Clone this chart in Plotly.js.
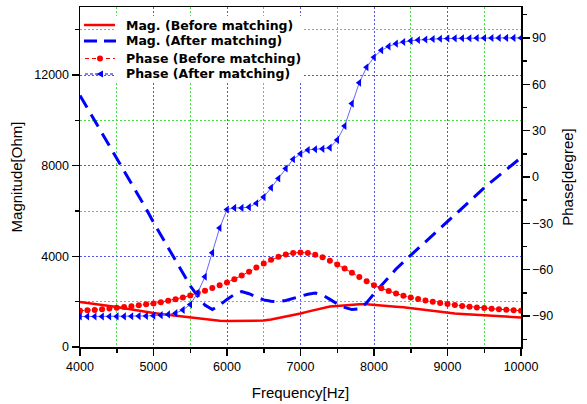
<!DOCTYPE html>
<html>
<head>
<meta charset="utf-8">
<script src="https://cdn.plot.ly/plotly-3.0.1.min.js"></script>
<style>html,body{margin:0;padding:0;background:#fff;}#chart{width:587px;height:404px;}</style>
</head>
<body>
<div id="chart"></div>
<script>
const freq = [4000,4100,4200,4300,4400,4500,4600,4700,4800,4900,
  5000,5100,5200,5300,5400,5500,5600,5700,5800,5900,
  6000,6100,6200,6300,6400,6500,6600,6700,6800,6900,
  7000,7100,7200,7300,7400,7500,7600,7700,7800,7900,
  8000,8100,8200,8300,8400,8500,8600,8700,8800,8900,
  9000,9100,9200,9300,9400,9500,9600,9700,9800,9900,10000];

const magBefore = [1990,1950,1900,1860,1810,1760,1710,1650,1600,1550,
  1500,1460,1420,1390,1350,1310,1270,1230,1190,1160,
  1150,1150,1150,1150,1155,1165,1210,1270,1340,1410,
  1480,1560,1640,1720,1790,1810,1840,1870,1890,1890,
  1870,1840,1810,1780,1750,1710,1680,1640,1600,1550,
  1500,1480,1460,1440,1420,1400,1380,1360,1340,1320,1300];

const magAfter = [11100,10550,10000,9450,8900,8350,7800,7250,6700,6100,
  5500,4950,4400,3820,3250,2700,2250,1850,1650,1850,
  2100,2320,2450,2350,2200,2080,2020,2000,2050,2150,
  2250,2330,2380,2300,2100,1900,1750,1650,1680,1950,
  2350,2720,3080,3440,3750,4050,4350,4650,4950,5250,
  5550,5850,6150,6450,6750,7020,7300,7570,7830,8100,8350];

const phaseBefore = [-86.6,-86.3,-86.0,-85.6,-85.1,-84.6,-84.1,-83.6,-83.0,-82.4,
  -81.8,-81.0,-80.1,-79.1,-77.9,-76.6,-75.2,-73.6,-71.9,-70.1,
  -68.2,-66.1,-63.7,-61.3,-58.6,-56.0,-53.6,-51.6,-50.1,-49.1,
  -48.8,-49.2,-50.3,-52.0,-54.2,-56.6,-59.2,-61.9,-64.7,-67.4,
  -70.0,-72.0,-73.8,-75.4,-76.8,-78.0,-79.0,-79.9,-80.7,-81.5,
  -82.2,-82.8,-83.4,-83.9,-84.4,-84.8,-85.2,-85.6,-85.9,-86.2,-86.5];

const phaseAfter = [-90.3,-90.3,-90.3,-90.3,-90.3,-90.2,-90.2,-90.1,-90.0,-89.9,
  -89.7,-89.4,-88.9,-88.1,-86.0,-82.5,-75.0,-64.5,-49.0,-33.0,
  -21.0,-20.0,-20.0,-19.5,-17.0,-13.0,-7.0,-1.0,5.5,11.5,
  15.0,17.5,18.0,18.2,19.0,24.0,33.0,47.5,61.0,71.0,
  77.5,82.0,84.5,86.3,87.4,88.1,88.6,89.0,89.3,89.5,
  89.6,89.7,89.8,89.8,89.9,89.9,89.9,90.0,90.0,90.0,90.0];

const seriesNames = ['Mag. (Before matching)','Mag. (After matching)','Phase (Before matching)','Phase (After matching)'];

const RED = '#ff0000', BLUE = '#0000ff', LIGHTBLUE = '#6666ff';

const traces = [
  {x: freq, y: phaseBefore, name: seriesNames[2], yaxis: 'y2', mode: 'lines+markers',
   line: {color: RED, width: 1, dash: '4px,3px'},
   marker: {symbol: 'circle', size: 6, color: RED}},
  {x: freq, y: phaseAfter, name: seriesNames[3], yaxis: 'y2', mode: 'lines+markers',
   line: {color: LIGHTBLUE, width: 1},
   marker: {symbol: 'triangle-left', size: 7, color: BLUE}},
  {x: freq, y: magBefore, name: seriesNames[0], yaxis: 'y', mode: 'lines',
   line: {color: RED, width: 2.5}},
  {x: freq, y: magAfter, name: seriesNames[1], yaxis: 'y', mode: 'lines',
   line: {color: BLUE, width: 3, dash: '14px,8px'}}
];

// plot-area pixel geometry -> paper fractions (for the custom legend)
const PL = 80, PT = 7, PW = 441, PH = 340;
const px = v => (v - PL) / PW;
const py = v => (PT + PH - v) / PH;

const legFont = {family: '"DejaVu Sans", Verdana, sans-serif', size: 12.5, weight: 'bold', color: '#000'};
const legRows = [25, 41, 58.5, 74];
const shapes = [
  {type: 'rect', xref: 'paper', yref: 'paper', layer: 'above', x0: px(116), x1: px(304), y0: py(16), y1: py(82),
   fillcolor: '#fff', line: {width: 0}},
  {type: 'line', xref: 'paper', yref: 'paper', layer: 'above', x0: px(84), x1: px(115), y0: py(legRows[0]), y1: py(legRows[0]),
   line: {color: RED, width: 2.5}},
  {type: 'line', xref: 'paper', yref: 'paper', layer: 'above', x0: px(84), x1: px(116), y0: py(legRows[1]), y1: py(legRows[1]),
   line: {color: BLUE, width: 3, dash: '13px,7px'}},
  {type: 'line', xref: 'paper', yref: 'paper', layer: 'above', x0: px(85), x1: px(115), y0: py(legRows[2]), y1: py(legRows[2]),
   line: {color: RED, width: 1, dash: '4px,3px'}},
  {type: 'circle', xref: 'paper', yref: 'paper', layer: 'above', x0: px(97), x1: px(103), y0: py(legRows[2] - 3), y1: py(legRows[2] + 3),
   fillcolor: RED, line: {width: 0}},
  {type: 'line', xref: 'paper', yref: 'paper', layer: 'above', x0: px(85), x1: px(115), y0: py(legRows[3]), y1: py(legRows[3]),
   line: {color: BLUE, width: 1, dash: '3px,2px'}},
  {type: 'path', xref: 'paper', yref: 'paper', layer: 'above', fillcolor: BLUE, line: {width: 0},
   path: 'M ' + px(96.5) + ' ' + py(legRows[3]) + ' L ' + px(103) + ' ' + py(legRows[3] - 3.5) +
         ' L ' + px(103) + ' ' + py(legRows[3] + 3.5) + ' Z'}
];
const annotations = seriesNames.map((name, i) => ({
  xref: 'paper', yref: 'paper', x: px(124), y: py(legRows[i]), xanchor: 'left', yanchor: 'middle',
  text: name, showarrow: false, font: legFont
}));

const tickFont = {family: 'Arial, "Liberation Sans", sans-serif', size: 12.5, color: '#000'};
const titleFont = {family: 'Arial, "Liberation Sans", sans-serif', size: 15, color: '#000'};
const gridBlue = '#5555ee', gridGreen = '#44e044';

const layout = {
  width: 587, height: 404,
  margin: {l: PL, r: 587 - PL - PW, t: PT, b: 404 - PT - PH},
  paper_bgcolor: '#fff', plot_bgcolor: '#fff',
  showlegend: false,
  shapes: shapes,
  annotations: annotations,
  xaxis: {range: [4000, 10000], dtick: 1000, tick0: 4000, tickformat: 'd', showline: true, linecolor: '#000', linewidth: 1.5,
    mirror: true, ticks: 'outside', ticklen: 7, tickcolor: '#000', tickwidth: 1.5, tickfont: tickFont,
    showgrid: true, gridcolor: gridBlue, gridwidth: 1, griddash: '2px,2px', zeroline: false,
    minor: {dtick: 500, tick0: 4000, ticks: 'outside', ticklen: 4, tickcolor: '#000', showgrid: true,
      gridcolor: gridGreen, gridwidth: 1, griddash: '2px,2px'},
    title: {text: 'Frequency[Hz]', font: titleFont, standoff: 15}},
  yaxis: {range: [0, 15000], dtick: 4000, tick0: 0, tickformat: 'd', showline: true, linecolor: '#000', linewidth: 1.5,
    ticks: 'outside', ticklen: 7, tickcolor: '#000', tickwidth: 1.5, tickfont: tickFont,
    showgrid: true, gridcolor: gridBlue, gridwidth: 1, griddash: '2px,2px', zeroline: false,
    minor: {dtick: 2000, tick0: 0, ticks: 'outside', ticklen: 4, tickcolor: '#000', showgrid: true,
      gridcolor: gridGreen, gridwidth: 1, griddash: '2px,2px'},
    title: {text: 'Magnitude[Ohm]', font: titleFont, standoff: 8}},
  yaxis2: {range: [-110, 110], dtick: 30, tick0: 0, overlaying: 'y', side: 'right', showline: true,
    linecolor: '#000', linewidth: 1.5, ticks: 'outside', ticklen: 7, tickcolor: '#000', tickwidth: 1.5,
    tickfont: tickFont, showgrid: false, zeroline: false,
    minor: {dtick: 30, tick0: 15, ticks: 'outside', ticklen: 4, tickcolor: '#000', showgrid: false},
    title: {text: 'Phase[degree]', font: titleFont, standoff: 10}}
};

Plotly.newPlot('chart', traces, layout, {displayModeBar: false, staticPlot: true});
</script>
</body>
</html>
